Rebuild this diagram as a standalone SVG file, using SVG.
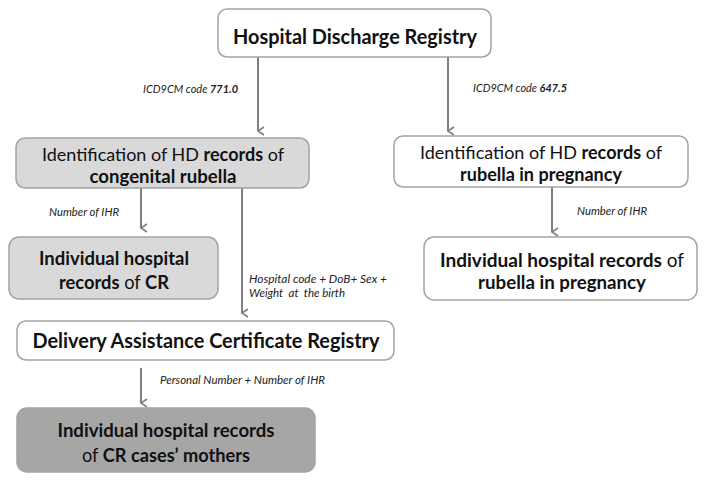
<svg xmlns="http://www.w3.org/2000/svg" width="708" height="483" viewBox="0 0 708 483">
<style>
.box{stroke:#a3a3a3;stroke-width:1.5}
.w{fill:#ffffff}
.g1{fill:#d9d9d9}
.g2{fill:#a6a6a6}
.t{font-family:Lato,"Open Sans",sans-serif;fill:#111;text-anchor:middle}
.b{font-weight:bold}
.lab{font-family:Lato,"Open Sans",sans-serif;font-style:italic;font-size:11px;fill:#222}
.c{stroke:#7f7f7f;stroke-width:2;fill:none}
</style>
<defs>
<marker id="ah" markerWidth="10" markerHeight="10" refX="5" refY="8" orient="auto" markerUnits="userSpaceOnUse" viewBox="0 0 10 10">
<path d="M1,2 L5,8 L9,2" fill="none" stroke="#7f7f7f" stroke-width="1.6"/>
</marker>
</defs>
<rect width="708" height="483" fill="#ffffff"/>
<g id="connectors">
<line class="c" x1="258" y1="57" x2="258" y2="131" marker-end="url(#ah)"/>
<line class="c" x1="448" y1="57" x2="448" y2="131" marker-end="url(#ah)"/>
<line class="c" x1="141" y1="188" x2="141" y2="228" marker-end="url(#ah)"/>
<line class="c" x1="242" y1="188" x2="242" y2="313" marker-end="url(#ah)"/>
<line class="c" x1="552" y1="187" x2="552" y2="232" marker-end="url(#ah)"/>
<line class="c" x1="141" y1="368" x2="141" y2="403" marker-end="url(#ah)"/>
<text class="lab" x="143" y="93" textLength="95" lengthAdjust="spacingAndGlyphs">ICD9CM code <tspan font-weight="bold">771.0</tspan></text>
<text class="lab" x="473" y="92" textLength="94" lengthAdjust="spacingAndGlyphs">ICD9CM code <tspan font-weight="bold">647.5</tspan></text>
<text class="lab" x="49" y="216" textLength="70" lengthAdjust="spacingAndGlyphs">Number of IHR</text>
<text class="lab" x="577" y="215" textLength="70" lengthAdjust="spacingAndGlyphs">Number of IHR</text>
<text class="lab" x="249" y="283" textLength="138" lengthAdjust="spacingAndGlyphs">Hospital code + DoB+ Sex +</text>
<text class="lab" x="249" y="297" textLength="96" lengthAdjust="spacingAndGlyphs" xml:space="preserve">Weight  at  the birth</text>
<text class="lab" x="160" y="384" textLength="165" lengthAdjust="spacingAndGlyphs">Personal Number + Number of IHR</text>
</g>
<g id="hdr">
<rect class="box w" x="218" y="9" width="273" height="48" rx="9"/>
<text class="t b" x="355" y="44" font-size="21" textLength="244" lengthAdjust="spacingAndGlyphs">Hospital Discharge Registry</text>
</g>
<g id="id-cr">
<rect class="box g1" x="16" y="138" width="293" height="50" rx="9"/>
<text class="t" x="163" y="161" font-size="18" textLength="242" lengthAdjust="spacingAndGlyphs">Identification of HD <tspan class="b">records</tspan> of</text>
<text class="t b" x="163" y="183" font-size="18" textLength="147" lengthAdjust="spacingAndGlyphs">congenital rubella</text>
</g>
<g id="id-rp">
<rect class="box w" x="394" y="136" width="294" height="51" rx="9"/>
<text class="t" x="541" y="159" font-size="18" textLength="242" lengthAdjust="spacingAndGlyphs">Identification of HD <tspan class="b">records</tspan> of</text>
<text class="t b" x="541" y="181" font-size="18" textLength="162" lengthAdjust="spacingAndGlyphs">rubella in pregnancy</text>
</g>
<g id="ihr-cr">
<rect class="box g1" x="9" y="237" width="209" height="62" rx="10"/>
<text class="t b" x="114" y="265" font-size="19" textLength="150" lengthAdjust="spacingAndGlyphs">Individual hospital</text>
<text class="t" x="114" y="289" font-size="19" textLength="110" lengthAdjust="spacingAndGlyphs"><tspan class="b">records</tspan> of <tspan class="b">CR</tspan></text>
</g>
<g id="ihr-rp">
<rect class="box w" x="424" y="237" width="273" height="63" rx="10"/>
<text class="t" x="562" y="267" font-size="19" textLength="244" lengthAdjust="spacingAndGlyphs"><tspan class="b">Individual hospital records</tspan> of</text>
<text class="t b" x="562" y="289" font-size="19" textLength="168" lengthAdjust="spacingAndGlyphs">rubella in pregnancy</text>
</g>
<g id="dacr">
<rect class="box w" x="17" y="321" width="377" height="39" rx="9"/>
<text class="t b" x="206" y="348" font-size="20" textLength="347" lengthAdjust="spacingAndGlyphs">Delivery Assistance Certificate Registry</text>
</g>
<g id="ihr-mothers">
<rect class="box g2" x="17" y="408" width="298" height="64" rx="10"/>
<text class="t b" x="166" y="437" font-size="19" textLength="217" lengthAdjust="spacingAndGlyphs">Individual hospital records</text>
<text class="t" x="166" y="462" font-size="19" textLength="168" lengthAdjust="spacingAndGlyphs">of <tspan class="b">CR cases’ mothers</tspan></text>
</g>
</svg>
